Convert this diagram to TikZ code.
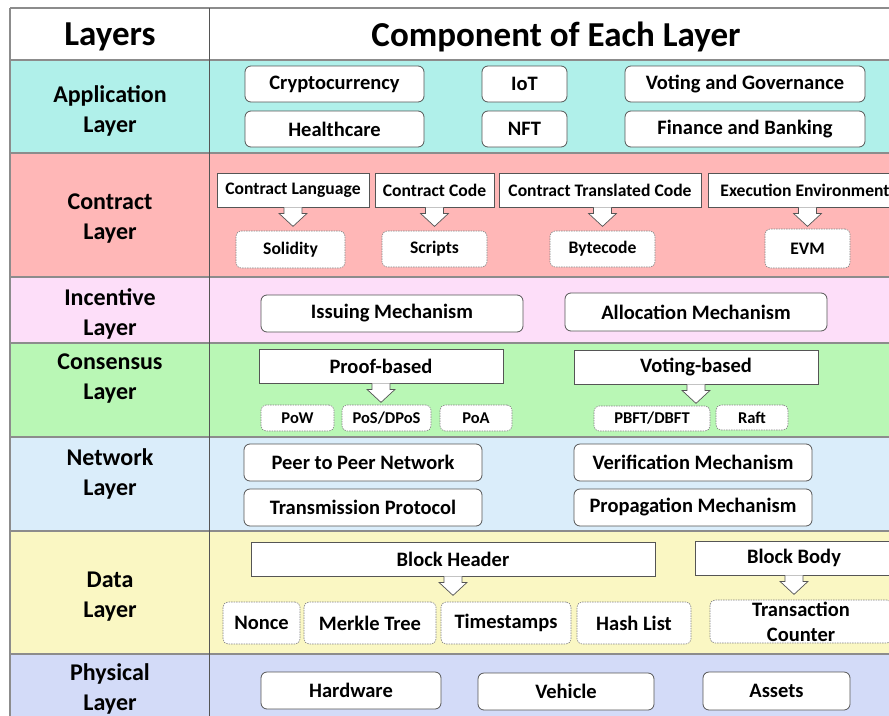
\documentclass[tikz,border=0pt]{standalone}
\usepackage{fontspec}
\setmainfont{Carlito}
\definecolor{appcol}{RGB}{176,240,234}
\definecolor{concol}{RGB}{255,183,183}
\definecolor{inccol}{RGB}{253,222,249}
\definecolor{cnscol}{RGB}{185,247,181}
\definecolor{netcol}{RGB}{218,237,250}
\definecolor{datcol}{RGB}{250,247,195}
\definecolor{phycol}{RGB}{211,219,248}
\definecolor{rule}{RGB}{140,140,140}
\definecolor{edge}{RGB}{85,85,85}
\definecolor{dashedge}{RGB}{130,130,130}
\begin{document}
\begin{tikzpicture}[x=1pt,y=-1pt,
  rowlabel/.style={font=\fontsize{24}{30}\selectfont\bfseries, align=center, inner sep=0},
  rbox/.style={draw=edge, line width=0.8pt, fill=white, rounded corners=6pt, inner sep=0,
    font=\fontsize{20.5}{25}\selectfont\bfseries, align=center},
  sqbox/.style={draw=edge, line width=0.8pt, fill=white, inner sep=0,
    font=\fontsize{20.5}{25}\selectfont\bfseries, align=center},
  dbox/.style={draw=dashedge, line width=0.6pt, dash pattern=on 1.5pt off 1pt, fill=white,
    rounded corners=5pt, inner sep=0, font=\fontsize{20.5}{25}\selectfont\bfseries, align=center},
  small/.style={font=\fontsize{17.6}{21}\selectfont\bfseries},
  tiny/.style={font=\fontsize{16.5}{20}\selectfont\bfseries},
  headtext/.style={font=\fontsize{35}{40}\selectfont\bfseries},
  wh/.style args={#1x#2}{minimum width=#1pt, minimum height=#2pt},
  pics/downarrow/.style={code={
    \draw[draw=edge, line width=0.7pt, fill=white, line join=miter]
      (-9,0) -- (-9,6) -- (-14,6) -- (0,19) -- (14,6) -- (9,6) -- (9,0);}}
]
\useasboundingbox (0,0) rectangle (889,715);
\clip (0,0) rectangle (889,715);

% row backgrounds
\fill[white]  (10,8)   rectangle (900,60);
\fill[appcol] (10,60)  rectangle (900,153);
\fill[concol] (10,153) rectangle (900,277);
\fill[inccol] (10,277) rectangle (900,343);
\fill[cnscol] (10,343) rectangle (900,437);
\fill[netcol] (10,437) rectangle (900,531);
\fill[datcol] (10,531) rectangle (900,654);
\fill[phycol] (10,654) rectangle (900,720);

% grid lines
\draw[rule, line width=1.2pt] (10,8) -- (900,8);
\foreach \yy in {60,153,277,343,437,531,654}
  \draw[rule, line width=1.2pt] (10,\yy) -- (900,\yy);
\draw[rule, line width=1.2pt] (10,8) -- (10,720);
\draw[edge, line width=1pt] (209,8) -- (209,720);

% header
\node[headtext] (hl) at (110,36.5) {Layers};
\node[headtext] (hc) at (556,36.5) {Component of Each Layer};

% layer names
\node[rowlabel] (lapp) at (110,110.5) {Application\\Layer};
\node[rowlabel] (lcon) at (110,218.5) {Contract\\Layer};
\node[rowlabel] (linc) at (110,313.5) {Incentive\\Layer};
\node[rowlabel] (lcns) at (110,378.5) {Consensus\\Layer};
\node[rowlabel] (lnet) at (110,473.5) {Network\\Layer};
\node[rowlabel] (ldat) at (110,596.5) {Data\\Layer};
\node[rowlabel] (lphy) at (110,688.5) {Physical\\Layer};

% application layer
\node[rbox, wh=179x36] (crypto) at (334.5,84)  {Cryptocurrency};
\node[rbox, wh=179x36] (health) at (334.5,129) {Healthcare};
\node[rbox, wh=85x36]  (iot)    at (524.5,84)  {IoT};
\node[rbox, wh=85x36]  (nft)    at (524.5,129) {NFT};
\node[rbox, wh=240x36] (vote)   at (745,84)    {Voting and Governance};
\node[rbox, wh=240x36] (fin)    at (745,129)   {Finance and Banking};

% contract layer
\node[sqbox, small, wh=152x34] (clang) at (293,190)   {Contract Language};
\node[sqbox, small, wh=119x34] (ccode) at (434.5,190) {Contract Code};
\node[sqbox, small, wh=202x34] (ctran) at (600,190)   {Contract Translated Code};
\node[sqbox, small, wh=194x34] (cexec) at (805,190)   {Execution Environment};
\node[dbox, small, wh=109x37] (solid) at (290.5,249.5) {Solidity};
\node[dbox, small, wh=105x36] (scrip) at (434.5,249)   {Scripts};
\node[dbox, small, wh=105x36] (bytec) at (602.5,249)   {Bytecode};
\node[dbox, small, wh=85x39]  (evm)   at (807.5,248.5) {EVM};
\pic at (clang.south) {downarrow};
\pic at (ccode.south) {downarrow};
\pic at (bytec.north |- ctran.south) {downarrow};
\pic at (evm.north |- cexec.south) {downarrow};

% incentive layer
\node[rbox, wh=262x37] (issue) at (392,313.5) {Issuing Mechanism};
\node[rbox, wh=262x38] (alloc) at (696,312)   {Allocation Mechanism};

% consensus layer
\node[sqbox, wh=244x34] (proof) at (381,366) {Proof-based};
\node[sqbox, wh=244x34] (votb)  at (696,367) {Voting-based};
\node[dbox, tiny, wh=73x26]  (pow)  at (297.5,418) {PoW};
\node[dbox, tiny, wh=89x26]  (pos)  at (386.5,418) {PoS/DPoS};
\node[dbox, tiny, wh=72x26]  (poa)  at (476,418)   {PoA};
\node[dbox, tiny, wh=116x25] (pbft) at (652,418.5) {PBFT/DBFT};
\node[dbox, tiny, wh=72x25]  (raft) at (752,417.5) {Raft};
\pic at (proof.south) {downarrow};
\pic at (votb.south) {downarrow};

% network layer
\node[rbox, wh=238x37] (p2p)   at (363,462.5) {Peer to Peer Network};
\node[rbox, wh=238x37] (trans) at (363,507.5) {Transmission Protocol};
\node[rbox, wh=238x37] (verif) at (693,462.5) {Verification Mechanism};
\node[rbox, wh=238x37] (prop)  at (693,507.5) {Propagation Mechanism};

% data layer
\node[sqbox, wh=404x34] (bhead) at (453,559) {Block Header};
\node[sqbox, wh=198x34] (bbody) at (794,558) {Block Body};
\node[dbox, wh=77x42]  (nonce)  at (261.5,623) {Nonce};
\node[dbox, wh=132x42] (merkle) at (370,623)   {Merkle Tree};
\node[dbox, wh=130x42] (times)  at (506,623)   {Timestamps};
\node[dbox, wh=114x42] (hlist)  at (634,623)   {Hash List};
\node[dbox, wh=182x43] (txc)    at (801,621.5) {Transaction\\Counter};
\pic at (bhead.south) {downarrow};
\pic at (bbody.south) {downarrow};

% physical layer
\node[rbox, wh=180x37] (hw)  at (351,690.5) {Hardware};
\node[rbox, wh=176x37] (veh) at (566,691.5) {Vehicle};
\node[rbox, wh=147x38] (ast) at (776.5,691) {Assets};
\end{tikzpicture}
\end{document}
